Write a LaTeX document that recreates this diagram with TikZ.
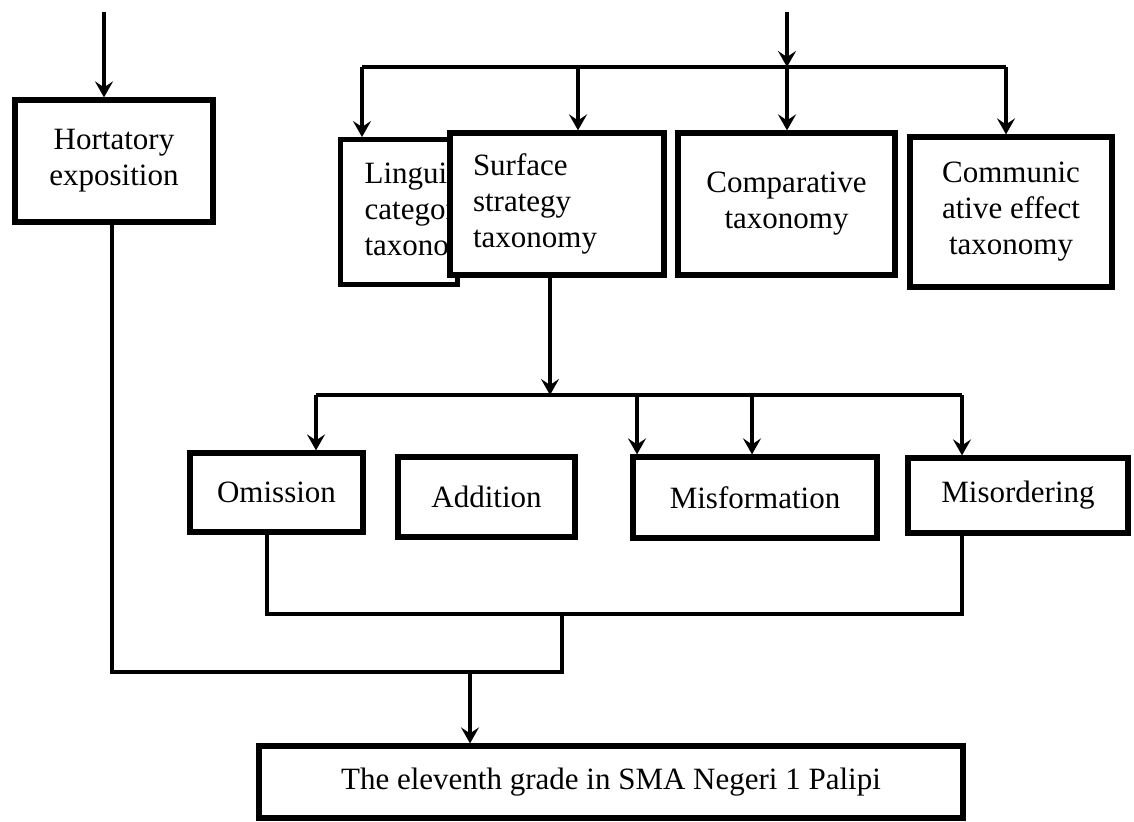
\documentclass[tikz,border=0pt]{standalone}
\usepackage{fontspec}
\setmainfont{Liberation Serif}
\usetikzlibrary{arrows.meta}
\begin{document}
\begin{tikzpicture}[x=0.5pt,y=-0.5pt,
  box/.style={draw=black,line width=2.6pt,fill=white,inner sep=0pt,
    font=\fontsize{15.5}{18}\selectfont,align=center},
  conn/.style={line width=2.2pt},
  arr/.style={line width=1.8pt,-{Stealth[length=8pt,width=9pt,inset=3pt]}}]
\useasboundingbox (0,0) rectangle (1134,822);
% nodes
\node[box,minimum width=99pt,minimum height=61pt] (hort) at (114,161) {Hortatory\\exposition};
\node[box,anchor=north west,minimum height=72.5pt,inner xsep=12pt,text width=34.5pt,align=left] (ling) at (338,137) {\mbox{Linguistic}\\\mbox{category}\\\mbox{taxonomy}};
\node[box,minimum height=71pt,inner xsep=11.5pt,text width=84pt,align=left] (surf) at (557,204) {Surface\\strategy\\taxonomy};
\node[box,minimum width=108.5pt,minimum height=71pt] (comp) at (786.5,204) {Comparative\\taxonomy};
\node[box,minimum width=101pt,minimum height=75pt] (comm) at (1011,212) {Communic\\ative effect\\taxonomy};
\node[box,minimum width=86.5pt,minimum height=39.5pt] (omis) at (276.5,492.5) {Omission};
\node[box,minimum width=88.5pt,minimum height=40pt] (addi) at (486.5,497) {Addition};
\node[box,minimum width=122pt,minimum height=40.5pt] (misf) at (755,497.5) {Misformation};
\node[box,minimum width=110pt,minimum height=37.5pt] (miso) at (1018,495.5) {Misordering};
\node[box,minimum width=352pt,minimum height=36pt] (last) at (611,782) {The eleventh grade in SMA Negeri 1 Palipi};
% coordinates
\coordinate (hin) at (104,12);
\coordinate (topin) at (787,12);
\coordinate (tj) at (787,67);
\coordinate (tl) at (362,67);
\coordinate (ts) at (578,67);
\coordinate (tr) at (1006,67);
\coordinate (sj) at (550,395);
\coordinate (ml) at (316,395);
\coordinate (m2) at (637,395);
\coordinate (m3) at (752,395);
\coordinate (mr) at (962,395);
\coordinate (b1) at (267,614);
\coordinate (b2) at (962,614);
\coordinate (b3) at (562,614);
\coordinate (b4) at (562,672);
\coordinate (b5) at (112,672);
\coordinate (b6) at (470,672);
% connectors
\draw[arr] (hin) -- (hin |- hort.north);
\draw[arr] (topin) -- (tj);
\draw[conn] (tl) -- (tr);
\draw[arr] (tl) -- (tl |- ling.north);
\draw[arr] (ts) -- (ts |- surf.north);
\draw[arr] (tj) -- (tj |- comp.north);
\draw[arr] (tr) -- (tr |- comm.north);
\draw[arr] (surf.south -| sj) -- (sj);
\draw[conn] (ml) -- (mr);
\draw[arr] (ml) -- (ml |- omis.north);
\draw[arr] (m2) -- (m2 |- misf.north);
\draw[arr] (m3) -- (m3 |- misf.north);
\draw[arr] (mr) -- (mr |- miso.north);
\draw[conn] (omis.south -| b1) -- (b1) -- (b2) -- (miso.south -| b2);
\draw[conn] (b3) -- (b4) -- (b5) -- (hort.south -| b5);
\draw[arr] (b6) -- (b6 |- last.north);
\end{tikzpicture}
\end{document}
